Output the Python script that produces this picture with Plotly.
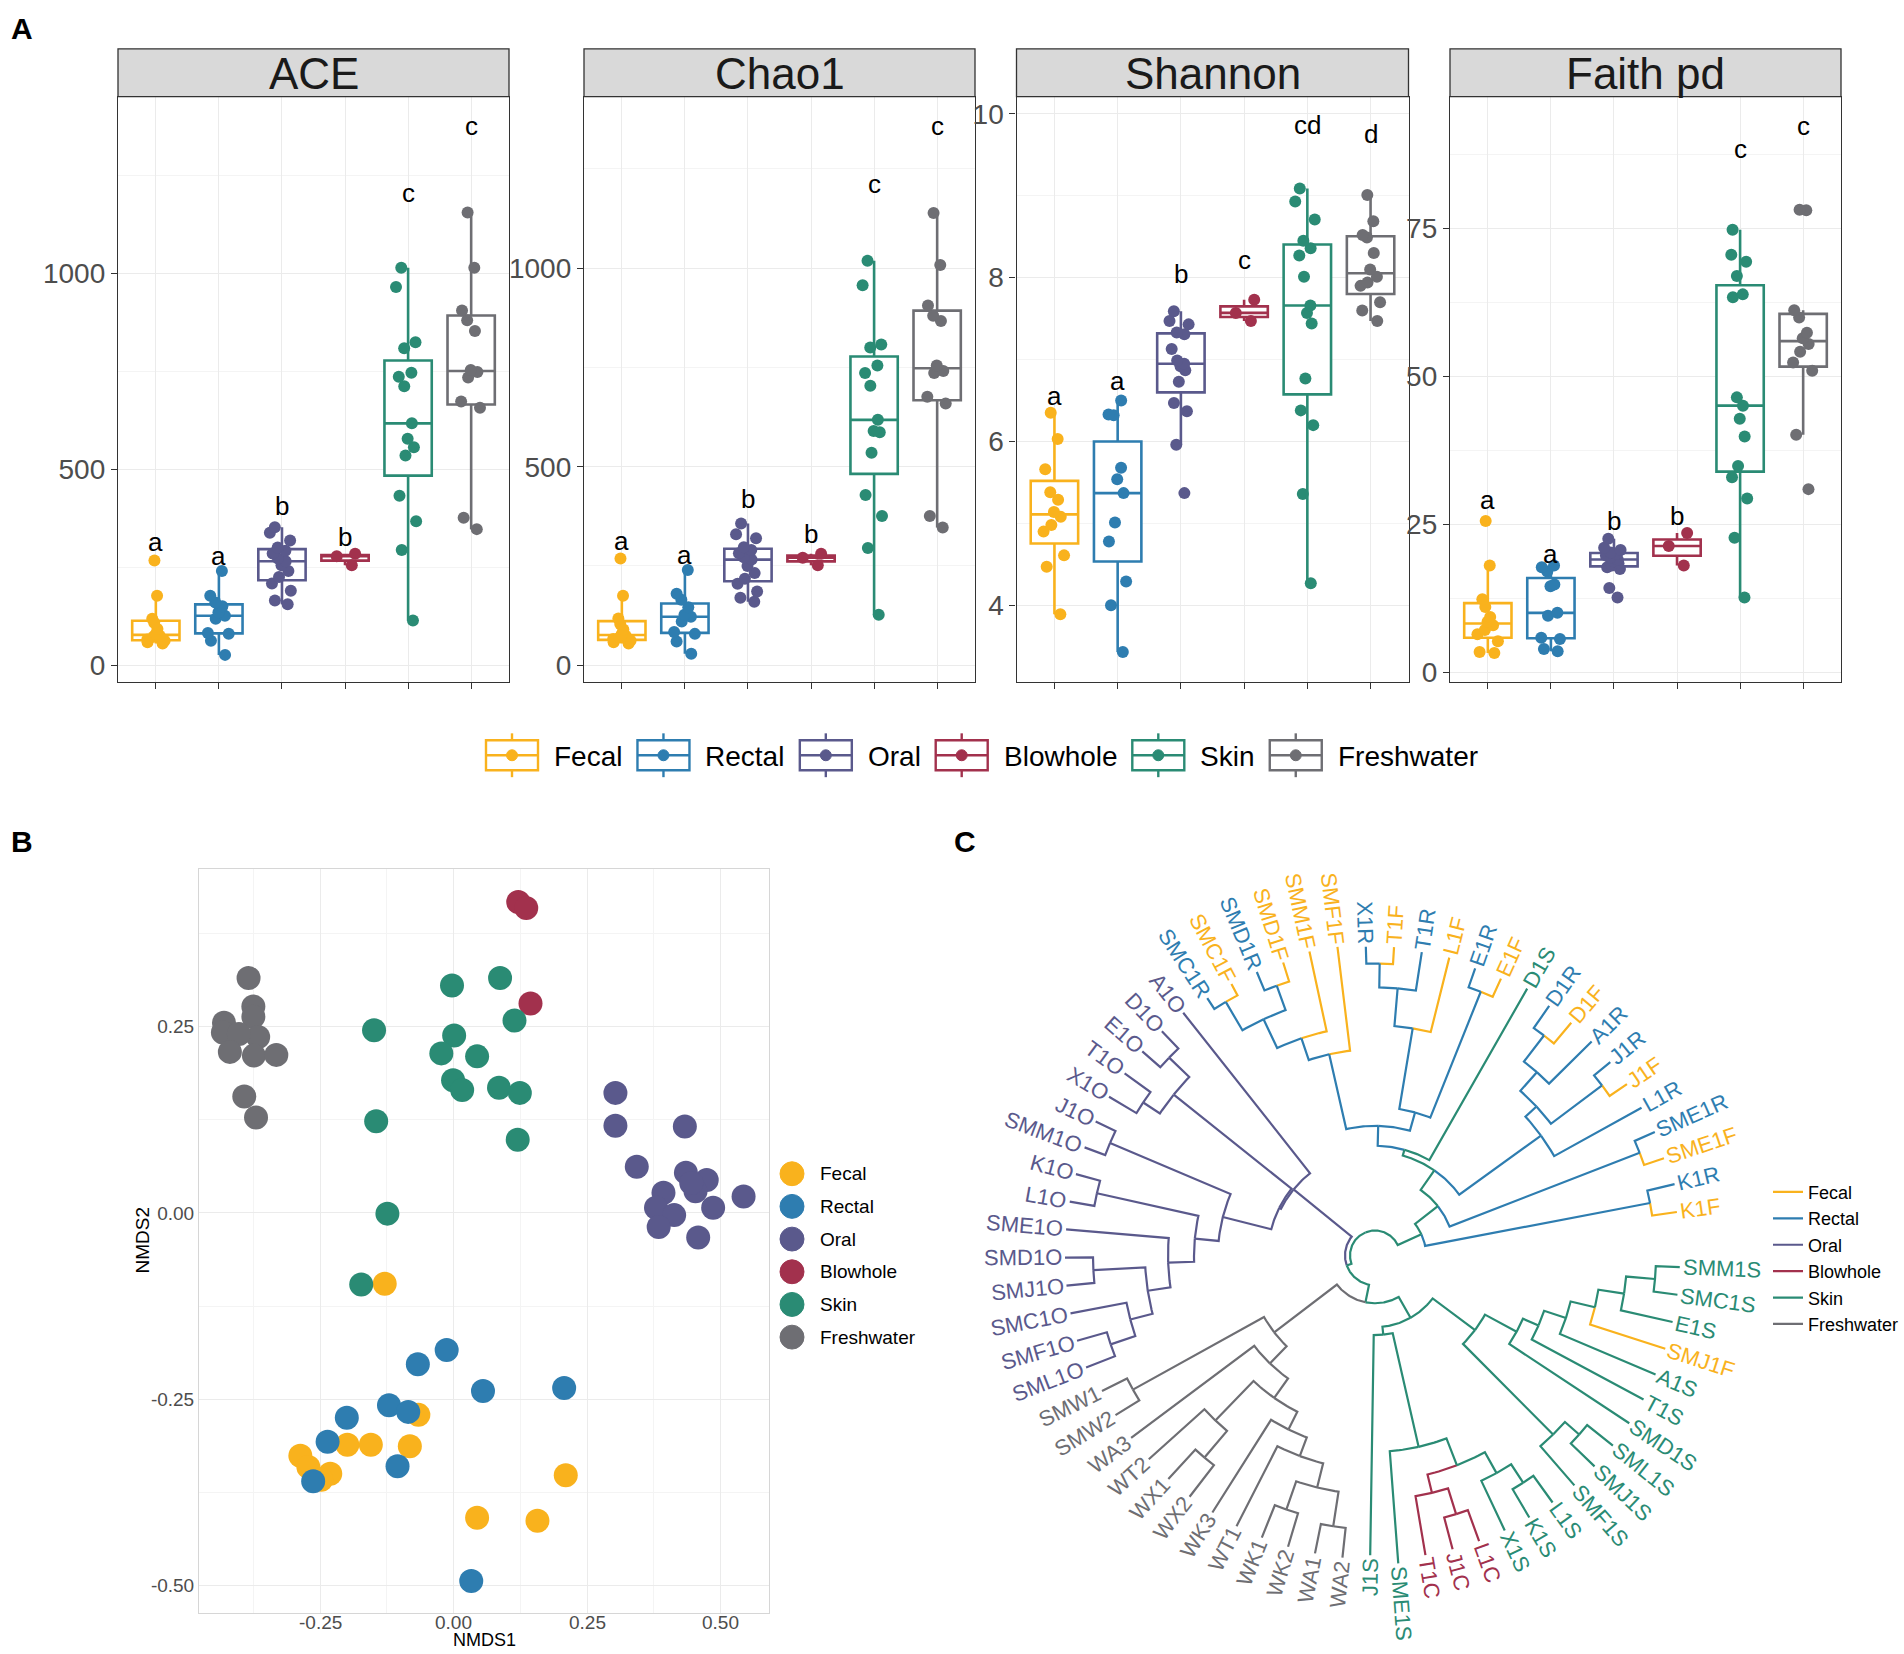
import math
import plotly.graph_objects as go

W, H = 1904, 1654
FONT = "Liberation Sans, Arial, sans-serif"
GROUPS = ["Fecal", "Rectal", "Oral", "Blowhole", "Skin", "Freshwater"]
COLORS = ["#F9B21D", "#2E7DB0", "#5A598C", "#A2314D", "#2A8B74", "#6E6E73"]

# ---------------- Panel A data (one list per group, in GROUPS order) ----------------
METRICS = ["ACE", "Chao1", "Shannon", "Faith pd"]
ACE = [
    [267, 177, 118, 108, 92, 79, 75, 72, 65, 62, 58, 55],
    [240, 177, 160, 150, 135, 126, 118, 82, 80, 62, 26],
    [352, 338, 318, 300, 292, 285, 272, 265, 255, 240, 225, 208, 190, 165, 155],
    [284, 278, 255],
    [1014, 965, 824, 809, 746, 736, 712, 617, 578, 556, 535, 432, 367, 294, 114],
    [1155, 1014, 905, 880, 853, 753, 748, 734, 673, 657, 376, 347],
]
CHAO1 = [
    [269, 175, 118, 104, 90, 78, 74, 70, 66, 62, 58, 55],
    [240, 180, 165, 146, 127, 122, 110, 84, 79, 60, 29],
    [357, 330, 320, 297, 290, 282, 272, 266, 250, 232, 218, 205, 186, 170, 160],
    [281, 271, 252],
    [1019, 957, 808, 800, 755, 736, 704, 618, 590, 587, 535, 429, 376, 295, 127],
    [1139, 1008, 906, 880, 867, 755, 741, 736, 676, 659, 376, 347],
]
SHANNON = [
    [6.35, 6.03, 5.66, 5.38, 5.29, 5.14, 5.08, 4.98, 4.90, 4.61, 4.47, 3.89],
    [6.50, 6.33, 6.32, 5.68, 5.54, 5.37, 5.01, 4.78, 4.29, 4.00, 3.43],
    [7.59, 7.47, 7.43, 7.33, 7.31, 7.13, 6.99, 6.95, 6.92, 6.87, 6.73, 6.47, 6.37, 5.96, 5.37],
    [7.73, 7.57, 7.47],
    [9.09, 8.93, 8.71, 8.45, 8.36, 8.27, 8.01, 7.66, 7.57, 7.44, 6.77, 6.38, 6.20, 5.36, 4.27],
    [9.01, 8.69, 8.52, 8.49, 8.30, 8.10, 8.01, 7.94, 7.90, 7.70, 7.60, 7.47],
]
FAITH = [
    [25.5, 18.0, 12.3, 11.0, 9.3, 8.5, 7.9, 7.1, 6.4, 5.2, 3.4, 3.2],
    [18.0, 17.7, 17.0, 14.8, 14.5, 10.0, 9.5, 5.8, 5.6, 3.9, 3.5],
    [22.5, 21.0, 20.6, 20.2, 20.0, 19.7, 19.3, 19.0, 18.7, 18.4, 18.0, 17.7, 17.4, 14.2, 12.6],
    [23.5, 21.3, 18.0],
    [74.7, 70.5, 69.3, 66.9, 63.8, 63.3, 46.4, 45.0, 42.8, 39.8, 34.8, 32.9, 29.3, 22.7, 12.6],
    [78.1, 78.0, 61.1, 59.9, 57.3, 56.4, 55.4, 54.1, 52.3, 50.9, 40.1, 30.9],
]
ACE_LETTERS = ["a", "a", "b", "b", "c", "c"]
ACE_LETTER_Y = [313, 279, 406, 328, 1206, 1376]
CHAO1_LETTERS = ["a", "a", "b", "b", "c", "c"]
CHAO1_LETTER_Y = [314, 278, 419, 330, 1213, 1357]
SHANNON_LETTERS = ["a", "a", "b", "c", "cd", "d"]
SHANNON_LETTER_Y = [6.55, 6.74, 8.05, 8.21, 9.86, 9.76]
FAITH_LETTERS = ["a", "a", "b", "b", "c", "c"]
FAITH_LETTER_Y = [29.0, 20.0, 25.5, 26.4, 88.3, 92.3]
A_RANGES = [[-42, 1451], [-41, 1432], [3.07, 10.21], [-1.6, 97.2]]
A_TICKS = [[0, 500, 1000], [0, 500, 1000], [4, 6, 8, 10], [0, 25, 50, 75]]
A_MINOR = [[250, 750, 1250], [250, 750, 1250], [5, 7, 9], [12.5, 37.5, 62.5, 87.5]]

# ---------------- Panel B data (NMDS) ----------------
NMDS1 = [
    [-0.129, -0.066, -0.199, -0.155, -0.082, -0.287, -0.272, -0.231, -0.248, 0.210, 0.044, 0.157],
    [-0.013, -0.067, 0.055, 0.207, -0.121, -0.085, -0.200, -0.236, -0.105, -0.263, 0.033],
    [0.303, 0.303, 0.433, 0.343, 0.435, 0.474, 0.393, 0.453, 0.543, 0.379, 0.413, 0.486, 0.384, 0.458, 0.445],
    [0.121, 0.136, 0.144],
    [-0.003, 0.087, 0.114, -0.149, 0.001, -0.023, 0.044, -0.001, 0.016, 0.085, 0.124, -0.145, 0.120, -0.124, -0.173],
    [-0.384, -0.375, -0.375, -0.430, -0.432, -0.366, -0.402, -0.419, -0.374, -0.332, -0.392, -0.370],
]
NMDS2 = [
    [-0.095, -0.271, -0.311, -0.311, -0.313, -0.326, -0.341, -0.350, -0.358, -0.352, -0.409, -0.413],
    [-0.184, -0.203, -0.239, -0.235, -0.258, -0.267, -0.275, -0.307, -0.340, -0.360, -0.494],
    [0.161, 0.117, 0.116, 0.062, 0.054, 0.044, 0.027, 0.029, 0.022, 0.007, -0.003, 0.007, -0.019, -0.033, 0.040],
    [0.417, 0.409, 0.281],
    [0.305, 0.315, 0.258, 0.245, 0.238, 0.214, 0.210, 0.178, 0.165, 0.168, 0.161, 0.123, 0.098, -0.001, -0.096],
    [0.315, 0.277, 0.263, 0.255, 0.242, 0.236, 0.240, 0.216, 0.211, 0.212, 0.156, 0.128],
]
B_XTICKS = [-0.25, 0.0, 0.25, 0.50]
B_XTICKTEXT = ["-0.25", "0.00", "0.25", "0.50"]
B_YTICKS = [-0.50, -0.25, 0.0, 0.25]
B_YTICKTEXT = ["-0.50", "-0.25", "0.00", "0.25"]

# ---------------- Panel C data (tree: [node depth, children...] / (tip, depth)) ----------------
FECAL_TIPS = ["K1F", "SME1F", "J1F", "D1F", "E1F", "L1F", "T1F", "SMF1F", "SMM1F", "SMD1F", "SMC1F", "SMJ1F"]
RECTAL_TIPS = ["K1R", "SME1R", "L1R", "J1R", "A1R", "D1R", "E1R", "T1R", "X1R", "SMD1R", "SMC1R"]
ORAL_TIPS = ["A1O", "D1O", "E1O", "T1O", "X1O", "J1O", "SMM1O", "K1O", "L1O", "SME1O", "SMD1O",
             "SMJ1O", "SMC1O", "SMF1O", "SML1O"]
BLOWHOLE_TIPS = ["T1C", "J1C", "L1C"]
SKIN_TIPS = ["D1S", "J1S", "SME1S", "X1S", "K1S", "L1S", "SMF1S", "SMJ1S", "SML1S", "SMD1S", "T1S",
             "A1S", "E1S", "SMC1S", "SMM1S"]
FRESHWATER_TIPS = ["SMW1", "SMW2", "WA3", "WT2", "WX1", "WX2", "WK3", "WT1", "WK1", "WK2", "WA1", "WA2"]

TREE = [0.25,
    [0.51,
        [2.80, ("K1F", 3.05), ("K1R", 3.08)],
        [0.80,
            [2.84, ("SME1F", 3.05), ("SME1R", 3.06)],
            [1.04,
                [2.05, ("L1R", 3.05),
                    [2.20,
                        [2.84, ("J1F", 3.05), ("J1R", 3.05)],
                        [2.45, ("A1R", 3.05), [2.78, ("D1F", 3.05), ("D1R", 3.05)]]]],
                [1.10, ("D1S", 3.08),
                    [1.30,
                        [1.49,
                            [2.85, ("E1F", 3.05), ("E1R", 3.05)],
                            [2.31, ("L1F", 3.08),
                                [2.69, ("T1R", 3.08), [2.93, ("T1F", 3.10), ("X1R", 3.10)]]]],
                        [2.07, ("SMF1F", 3.12),
                            [2.30, ("SMM1F", 3.12),
                                [2.62,
                                    [2.88, ("SMD1F", 3.08), ("SMD1R", 3.08)],
                                    [2.95, ("SMC1F", 3.08), ("SMC1R", 3.08)]]]]]]]]],
    [0.30,
        [1.05, ("A1O", 3.10),
            [1.07,
                [2.58, [2.86, ("D1O", 3.10), ("E1O", 3.10)], [2.78, ("T1O", 3.10), ("X1O", 3.10)]],
                [1.57,
                    [2.88, ("J1O", 3.10), ("SMM1O", 3.10)],
                    [1.81,
                        [2.85, ("K1O", 3.10), ("L1O", 3.10)],
                        [2.07, ("SME1O", 3.10),
                            [2.30,
                                [2.82, ("SMD1O", 3.10), ("SMJ1O", 3.10)],
                                [2.53, ("SMC1O", 3.10), [2.79, ("SMF1O", 3.10), ("SML1O", 3.10)]]]]]]]],
        [0.48,
            [1.27,
                [2.77, ("SMW1", 3.05), ("SMW2", 3.05)],
                [1.51, ("WA3", 3.05),
                    [1.75,
                        [2.30, ("WT2", 3.05), [2.65, ("WX1", 3.05), ("WX2", 3.05)]],
                        [1.95, ("WK3", 3.05),
                            [2.15, ("WT1", 3.05),
                                [2.40, [2.70, ("WK1", 3.05), ("WK2", 3.05)],
                                       [2.75, ("WA1", 3.05), ("WA2", 3.05)]]]]]]],
            [0.72,
                [0.80, ("J1S", 3.01),
                    [1.97, ("SME1S", 3.10),
                        [2.26,
                            [2.45, ("T1C", 3.05), [2.72, ("J1C", 3.05), ("L1C", 3.05)]],
                            [2.50, ("X1S", 3.05), [2.72, ("K1S", 3.05), ("L1S", 3.05)]]]]],
                [1.25,
                    [2.53, ("SMF1S", 3.05), [2.72, ("SMJ1S", 3.05), ("SML1S", 3.05)]],
                    [1.61, ("SMD1S", 3.05),
                        [1.78, ("T1S", 3.05),
                            [2.01, ("A1S", 3.05),
                                [2.26, ("SMJ1F", 3.05),
                                    [2.52, ("E1S", 3.05), [2.81, ("SMC1S", 3.05), ("SMM1S", 3.05)]]]]]]]]]]]

# ---------------- geometry constants ----------------
def pxx(v):
    return v / W


def pxy(v):
    return 1 - v / H


PANEL_X = [(118, 509), (584, 975), (1016.5, 1408.5), (1450, 1841)]
STRIP_TOP, STRIP_BOT, PLOT_BOT = 49, 97, 684
B_X = (199, 769)
B_Y = (872, 1619)
B_XRANGE = [-0.4768, 0.5906]
B_YRANGE = [-0.537, 0.4616]
C_X0, C_Y0 = 952, 843.54          # C panel works in page pixels
TREE_CX, TREE_CY = 1375, 1260
TREE_SCALE = 100.0
TREE_ROT = 3.0
LABEL_SIZE = 22

# Arial-metric character widths (em) for text-width estimates
CW = {"S": 0.667, "M": 0.833, "C": 0.722, "D": 0.722, "F": 0.611, "R": 0.722, "E": 0.667,
      "J": 0.5, "K": 0.667, "L": 0.556, "T": 0.611, "X": 0.667, "A": 0.667, "O": 0.778,
      "W": 0.944, "B": 0.667, "1": 0.556, "2": 0.556, "3": 0.556,
      "a": 0.556, "b": 0.556, "c": 0.5, "d": 0.556, "e": 0.556, "h": 0.556, "i": 0.222,
      "k": 0.5, "l": 0.222, "n": 0.556, "o": 0.556, "r": 0.333, "s": 0.5, "t": 0.278, "w": 0.722}


def text_w(s, size):
    return sum(CW.get(ch, 0.6) for ch in s) * size


fig = go.Figure()
layout = dict(
    width=W, height=H, margin=dict(l=0, r=0, t=0, b=0),
    paper_bgcolor="white", plot_bgcolor="white",
    font=dict(family=FONT, color="#000000"),
    boxmode="overlay", showlegend=True,
    annotations=[], shapes=[],
)

# ---------------- Panel A ----------------
ALL_A = [ACE, CHAO1, SHANNON, FAITH]
ALL_LET = [ACE_LETTERS, CHAO1_LETTERS, SHANNON_LETTERS, FAITH_LETTERS]
ALL_LETY = [ACE_LETTER_Y, CHAO1_LETTER_Y, SHANNON_LETTER_Y, FAITH_LETTER_Y]
for k in range(4):
    suf = "" if k == 0 else str(k + 1)
    xref, yref = "x" + suf, "y" + suf
    x0, x1 = PANEL_X[k]
    for g, vals in enumerate(ALL_A[k]):
        fig.add_trace(go.Box(
            y=vals, x=[GROUPS[g]] * len(vals), name=GROUPS[g],
            xaxis=xref, yaxis=yref, boxpoints="all", jitter=0.55, pointpos=0,
            width=0.75, whiskerwidth=0, quartilemethod="inclusive",
            line=dict(color=COLORS[g], width=2.6), fillcolor="white",
            marker=dict(color=COLORS[g], size=12, line=dict(width=0)),
            showlegend=False, hoverinfo="skip"))
    layout["xaxis" + suf] = dict(
        domain=[pxx(x0), pxx(x1)], anchor=yref, type="category",
        categoryorder="array", categoryarray=GROUPS, range=[-0.6, 5.6],
        showticklabels=False, ticks="outside", ticklen=6, tickwidth=1.3, tickcolor="#333333",
        showgrid=True, gridcolor="#EBEBEB", gridwidth=1.2, zeroline=False,
        showline=True, mirror=True, linecolor="#333333", linewidth=1.3, fixedrange=True)
    layout["yaxis" + suf] = dict(
        domain=[pxy(PLOT_BOT), pxy(STRIP_BOT)], anchor=xref, range=A_RANGES[k],
        tickmode="array", tickvals=A_TICKS[k], ticktext=[str(t) for t in A_TICKS[k]],
        tickfont=dict(size=28, color="#4D4D4D", family=FONT),
        ticks="outside", ticklen=6, tickwidth=1.3, tickcolor="#333333",
        showgrid=True, gridcolor="#EBEBEB", gridwidth=1.2, zeroline=False,
        minor=dict(tickmode="array", tickvals=A_MINOR[k], showgrid=True,
                   gridcolor="#F4F4F4", gridwidth=1, ticks=""),
        showline=True, mirror=True, linecolor="#333333", linewidth=1.3, fixedrange=True)
    layout["shapes"].append(dict(
        type="rect", xref="paper", yref="paper", x0=pxx(x0), x1=pxx(x1),
        y0=pxy(STRIP_BOT), y1=pxy(STRIP_TOP), fillcolor="#D9D9D9",
        line=dict(color="#333333", width=1.3), layer="above"))
    layout["annotations"].append(dict(
        text=METRICS[k], xref="paper", yref="paper", x=pxx((x0 + x1) / 2),
        y=pxy((STRIP_TOP + STRIP_BOT) / 2 + 1), xanchor="center", yanchor="middle",
        showarrow=False, font=dict(size=44, color="#1A1A1A", family=FONT)))
    for g in range(6):
        layout["annotations"].append(dict(
            text=ALL_LET[k][g], xref=xref, yref=yref, x=GROUPS[g], y=ALL_LETY[k][g],
            xanchor="center", yanchor="middle", showarrow=False,
            font=dict(size=26, color="#000000", family=FONT)))

# legend for panel A: box-plot glyphs + labels in one row
LEG_A_X0, LEG_A_Y = 486, 758
GLYPH_W, GLYPH_H, WHISK = 52, 30, 7
lx = LEG_A_X0
for g, nm in enumerate(GROUPS):
    cx = lx + GLYPH_W / 2
    col = COLORS[g]
    for (ya, yb) in [(LEG_A_Y - GLYPH_H / 2 - WHISK, LEG_A_Y - GLYPH_H / 2),
                     (LEG_A_Y + GLYPH_H / 2, LEG_A_Y + GLYPH_H / 2 + WHISK)]:
        layout["shapes"].append(dict(type="line", xref="paper", yref="paper",
                                     x0=pxx(cx), x1=pxx(cx), y0=pxy(ya), y1=pxy(yb),
                                     line=dict(color=col, width=2.4)))
    layout["shapes"].append(dict(type="rect", xref="paper", yref="paper",
                                 x0=pxx(lx), x1=pxx(lx + GLYPH_W),
                                 y0=pxy(LEG_A_Y + GLYPH_H / 2), y1=pxy(LEG_A_Y - GLYPH_H / 2),
                                 line=dict(color=col, width=2.4), fillcolor="white"))
    layout["shapes"].append(dict(type="line", xref="paper", yref="paper",
                                 x0=pxx(lx), x1=pxx(lx + GLYPH_W), y0=pxy(LEG_A_Y), y1=pxy(LEG_A_Y),
                                 line=dict(color=col, width=2.4)))
    layout["shapes"].append(dict(type="circle", xref="paper", yref="paper",
                                 x0=pxx(cx - 5.5), x1=pxx(cx + 5.5),
                                 y0=pxy(LEG_A_Y + 5.5), y1=pxy(LEG_A_Y - 5.5),
                                 line=dict(color=col, width=1), fillcolor=col))
    tx = lx + GLYPH_W + 14
    layout["annotations"].append(dict(
        text=nm, xref="paper", yref="paper", x=pxx(tx), y=pxy(LEG_A_Y + 1), xanchor="left",
        yanchor="middle", showarrow=False, font=dict(size=28, color="#000000", family=FONT)))
    lx = tx + text_w(nm, 28) + 17

# ---------------- Panel B ----------------
for g in range(6):
    fig.add_trace(go.Scatter(
        x=NMDS1[g], y=NMDS2[g], mode="markers", name=GROUPS[g],
        xaxis="x5", yaxis="y5", showlegend=False,
        marker=dict(color=COLORS[g], size=24, line=dict(width=0)), hoverinfo="skip"))
layout["xaxis5"] = dict(
    domain=[pxx(B_X[0]), pxx(B_X[1])], anchor="y5", range=B_XRANGE,
    tickmode="array", tickvals=B_XTICKS, showticklabels=False, ticks="",
    showgrid=True, gridcolor="#EBEBEB", gridwidth=1.2, zeroline=False,
    minor=dict(tickmode="array", tickvals=[-0.375, -0.125, 0.125, 0.375], showgrid=True,
               gridcolor="#F4F4F4", gridwidth=1, ticks=""),
    showline=True, mirror=True, linecolor="#D6D6D6", linewidth=1, fixedrange=True)
layout["yaxis5"] = dict(
    domain=[pxy(B_Y[1]), pxy(B_Y[0])], anchor="x5", range=B_YRANGE,
    tickmode="array", tickvals=B_YTICKS, ticktext=B_YTICKTEXT,
    tickfont=dict(size=19, color="#4D4D4D", family=FONT), ticks="",
    showgrid=True, gridcolor="#EBEBEB", gridwidth=1.2, zeroline=False,
    minor=dict(tickmode="array", tickvals=[-0.375, -0.125, 0.125, 0.375], showgrid=True,
               gridcolor="#F4F4F4", gridwidth=1, ticks=""),
    showline=True, mirror=True, linecolor="#D6D6D6", linewidth=1, fixedrange=True)
for tv, tt in zip(B_XTICKS, B_XTICKTEXT):
    layout["annotations"].append(dict(
        text=tt, xref="x5", yref="paper", x=tv, y=pxy(1628), xanchor="center", yanchor="middle",
        showarrow=False, font=dict(size=19, color="#4D4D4D", family=FONT)))
layout["annotations"].append(dict(
    text="NMDS1", xref="paper", yref="paper", x=pxx((B_X[0] + B_X[1]) / 2), y=pxy(1646),
    xanchor="center", yanchor="middle", showarrow=False, font=dict(size=18, family=FONT)))
layout["annotations"].append(dict(
    text="NMDS2", xref="paper", yref="paper", x=pxx(142), y=pxy(1245), textangle=-90,
    xanchor="center", yanchor="middle", showarrow=False, font=dict(size=19, family=FONT)))

# legend for panel B: filled circles + labels
LEG_B_X, LEG_B_Y0, LEG_B_DY, LEG_B_R = 792, 1178, 32.8, 12
for g, nm in enumerate(GROUPS):
    cy = LEG_B_Y0 + g * LEG_B_DY
    layout["shapes"].append(dict(type="circle", xref="paper", yref="paper",
                                 x0=pxx(LEG_B_X - LEG_B_R), x1=pxx(LEG_B_X + LEG_B_R),
                                 y0=pxy(cy + LEG_B_R), y1=pxy(cy - LEG_B_R),
                                 line=dict(color=COLORS[g], width=1), fillcolor=COLORS[g]))
    layout["annotations"].append(dict(
        text=nm, xref="paper", yref="paper", x=pxx(818), y=pxy(cy), xanchor="left",
        yanchor="middle", showarrow=False, font=dict(size=19, color="#000000", family=FONT)))

# ---------------- Panel C (circular dendrogram) ----------------
nodes = []


def walk(n, parent):
    idx = len(nodes)
    if isinstance(n, tuple):
        nodes.append(dict(name=n[0], d=n[1], parent=parent, kids=[]))
    else:
        nodes.append(dict(name=None, d=n[0], parent=parent, kids=[]))
        for c in n[1:]:
            nodes[idx]["kids"].append(walk(c, idx))
    return idx


walk(TREE, None)
tips = [i for i, n in enumerate(nodes) if n["name"]]
ntip = len(tips)
for k, i in enumerate(tips):
    nodes[i]["theta"] = 360.0 * (k + 1) / (ntip + 1) + TREE_ROT
for i in range(len(nodes) - 1, -1, -1):
    if not nodes[i]["name"]:
        th = [nodes[c]["theta"] for c in nodes[i]["kids"]]
        nodes[i]["theta"] = (min(th) + max(th)) / 2

GROUP_TIPS = [FECAL_TIPS, RECTAL_TIPS, ORAL_TIPS, BLOWHOLE_TIPS, SKIN_TIPS, FRESHWATER_TIPS]
name_idx = {nodes[i]["name"]: i for i in tips}
tip_group = {}
for g, lst in enumerate(GROUP_TIPS):
    for nm in lst:
        tip_group[nm] = g


def ancestors(i):
    out = []
    while i is not None:
        out.append(i)
        i = nodes[i]["parent"]
    return out


edge_group = {}
for g, lst in enumerate(GROUP_TIPS):
    ids = [name_idx[nm] for nm in lst]
    common = set(ancestors(ids[0]))
    for i in ids[1:]:
        common &= set(ancestors(i))
    mrca = next(a for a in ancestors(ids[0]) if a in common)
    for i in ids:
        j = i
        while True:
            edge_group[j] = g
            if j == mrca:
                break
            j = nodes[j]["parent"]


def to_xy(r, th):
    a = math.radians(th)
    return TREE_CX + r * math.cos(a), TREE_CY - r * math.sin(a)


seg_x = {g: [] for g in range(6)}
seg_y = {g: [] for g in range(6)}
for i, n in enumerate(nodes):
    p = n["parent"]
    if p is None:
        continue
    g = edge_group.get(i, 5)
    rp = nodes[p]["d"] * TREE_SCALE
    tp, tn = nodes[p]["theta"], n["theta"]
    steps = max(2, int(abs(tn - tp) / 1.0) + 1)
    for s in range(steps + 1):
        x, y = to_xy(rp, tp + (tn - tp) * s / steps)
        seg_x[g].append(x)
        seg_y[g].append(y)
    x, y = to_xy(n["d"] * TREE_SCALE, tn)
    seg_x[g].append(x)
    seg_y[g].append(y)
    seg_x[g].append(None)
    seg_y[g].append(None)

for g in range(6):
    fig.add_trace(go.Scatter(
        x=seg_x[g], y=seg_y[g], mode="lines", name=GROUPS[g], xaxis="x6", yaxis="y6",
        line=dict(color=COLORS[g], width=2.2), legend="legend", legendgroup="c" + GROUPS[g],
        hoverinfo="skip", connectgaps=False))

for i in tips:
    n = nodes[i]
    th = n["theta"] % 360
    wtxt = text_w(n["name"], LABEL_SIZE)
    dist = n["d"] * TREE_SCALE + 3 + wtxt / 2
    x, y = to_xy(dist, th)
    ang = 180 - th if 90 < th < 270 else -th
    if ang < -180:
        ang += 360
    layout["annotations"].append(dict(
        text=n["name"], xref="x6", yref="y6", x=x, y=y, textangle=ang,
        xanchor="center", yanchor="middle", showarrow=False,
        font=dict(size=LABEL_SIZE, color=COLORS[tip_group[n["name"]]], family=FONT)))

layout["xaxis6"] = dict(domain=[pxx(C_X0), 1.0], anchor="y6", range=[C_X0, W], visible=False,
                        fixedrange=True)
layout["yaxis6"] = dict(domain=[0.0, pxy(C_Y0)], anchor="x6", range=[H, C_Y0], visible=False,
                        fixedrange=True)

# ---------------- panel tags ----------------
for tag, (tx, ty) in zip(["A", "B", "C"], [(22, 29), (22, 845), (965, 845)]):
    layout["annotations"].append(dict(
        text="<b>" + tag + "</b>", xref="paper", yref="paper", x=pxx(tx), y=pxy(ty),
        xanchor="center", yanchor="middle", showarrow=False,
        font=dict(size=30, color="#000000", family=FONT)))

# ---------------- legend (panel C) ----------------
layout["legend"] = dict(x=pxx(1768), xanchor="left", y=pxy(1178), yanchor="top",
                        font=dict(size=18, family=FONT), bgcolor="rgba(0,0,0,0)", itemwidth=30,
                        tracegroupgap=5, traceorder="normal")

fig.update_layout(**layout)
fig.write_html("out.html", config={"displayModeBar": False},
               post_script="document.body.style.margin='0px';document.body.style.overflow='hidden';")
